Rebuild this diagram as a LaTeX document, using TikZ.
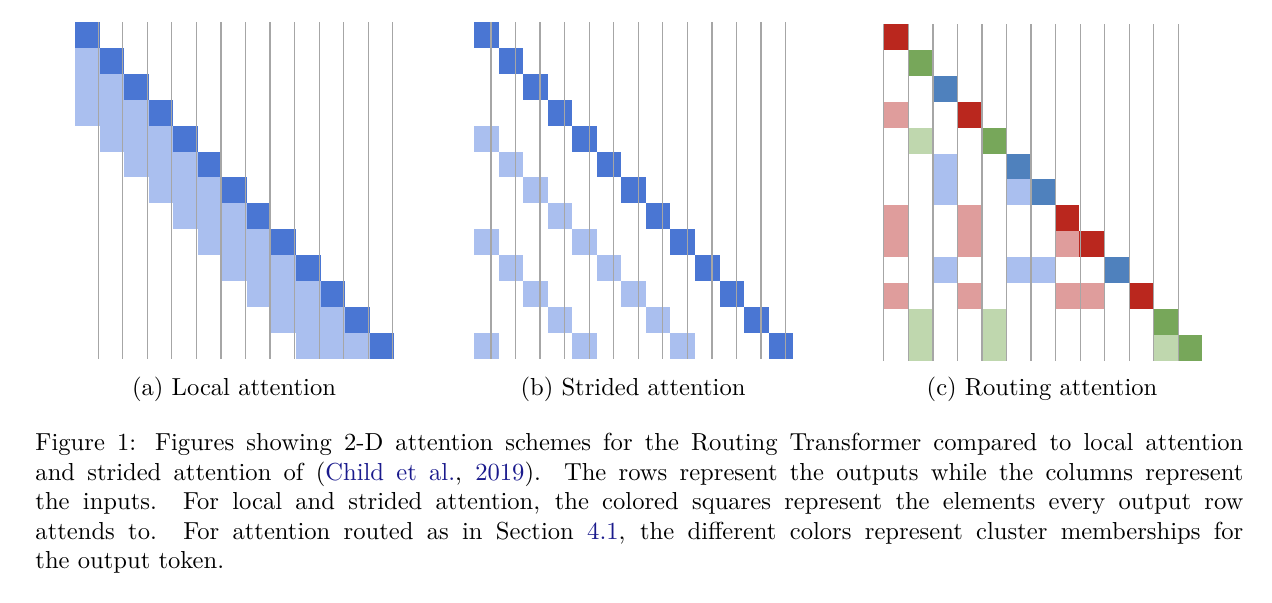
\documentclass[tikz,border=0pt]{standalone}
\usepackage{xcolor}
\definecolor{dblue}{HTML}{4A76D3}
\definecolor{lblue}{HTML}{AABFEF}
\definecolor{cblue}{HTML}{4F81BD}
\definecolor{dred}{HTML}{BA271E}
\definecolor{lred}{HTML}{DF9D9C}
\definecolor{dgreen}{HTML}{77A75A}
\definecolor{lgreen}{HTML}{BFD7AE}
\definecolor{gridc}{HTML}{A6A6A6}
\definecolor{linkc}{HTML}{1A1A8C}
\newcommand{\cellfill}[5]{% x0, y0, col, row, color
  \fill[#5] ({#1+#3*24.55},{#2+#4*25.9}) rectangle ++(24.55,25.9);}
\newcommand{\gridat}[2]{%
  \draw[gridc, line width=0.5pt] (#1,#2) grid[xstep=24.55,ystep=25.9] ({#1+13*24.55},{#2+13*25.9});}
\begin{document}
\begin{tikzpicture}[x=0.4065pt,y=-0.4065pt,
  captext/.style={font=\fontsize{10}{12}\selectfont, anchor=base}]
\useasboundingbox (0,0) rectangle (1272,602);
% (a) local
\foreach \r in {0,...,12}{
  \foreach \d in {1,2,3}{
    \pgfmathtruncatemacro{\c}{\r-\d}
    \ifnum\c>-1 \cellfill{75}{22}{\c}{\r}{lblue}\fi}
  \cellfill{75}{22}{\r}{\r}{dblue}}
\gridat{75}{22}
% (b) strided
\foreach \r in {0,...,12}{
  \foreach \d in {4,8,12}{
    \pgfmathtruncatemacro{\c}{\r-\d}
    \ifnum\c>-1 \cellfill{474}{22}{\c}{\r}{lblue}\fi}
  \cellfill{474}{22}{\r}{\r}{dblue}}
\gridat{474}{22}
% (c) routing
\foreach \r/\col in {0/dred,1/dgreen,2/cblue,3/dred,4/dgreen,5/cblue,6/cblue,7/dred,8/dred,9/cblue,10/dred,11/dgreen,12/dgreen}
  {\cellfill{883}{24}{\r}{\r}{\col}}
\foreach \c/\r/\col in {0/3/lred,1/4/lgreen,2/5/lblue,2/6/lblue,5/6/lblue,0/7/lred,3/7/lred,
  0/8/lred,3/8/lred,7/8/lred,2/9/lblue,5/9/lblue,6/9/lblue,0/10/lred,3/10/lred,7/10/lred,8/10/lred,
  1/11/lgreen,4/11/lgreen,1/12/lgreen,4/12/lgreen,11/12/lgreen}
  {\cellfill{883}{24}{\c}{\r}{\col}}
\gridat{883}{24}
% captions
\node[captext] (ca) at (234,395) {(a) Local attention};
\node[captext] (cb) at (633,395) {(b) Strided attention};
\node[captext] (cc) at (1042,395) {(c) Routing attention};
\node[anchor=north west, inner sep=0pt, text width=491pt, align=justify,
  font=\fontsize{10}{12}\selectfont] (fig) at (35,433) {Figure 1: Figures showing 2-D attention schemes for the Routing Transformer compared to local attention\linebreak
and strided attention of ({\color{linkc}Child et al.}, {\color{linkc}2019}). The rows represent the outputs while the columns represent\linebreak
the inputs. For local and strided attention, the colored squares represent the elements every output row\linebreak
attends to. For attention routed as in Section {\color{linkc}4.1}, the different colors represent cluster memberships for\linebreak
the output token.};
\end{tikzpicture}
\end{document}
